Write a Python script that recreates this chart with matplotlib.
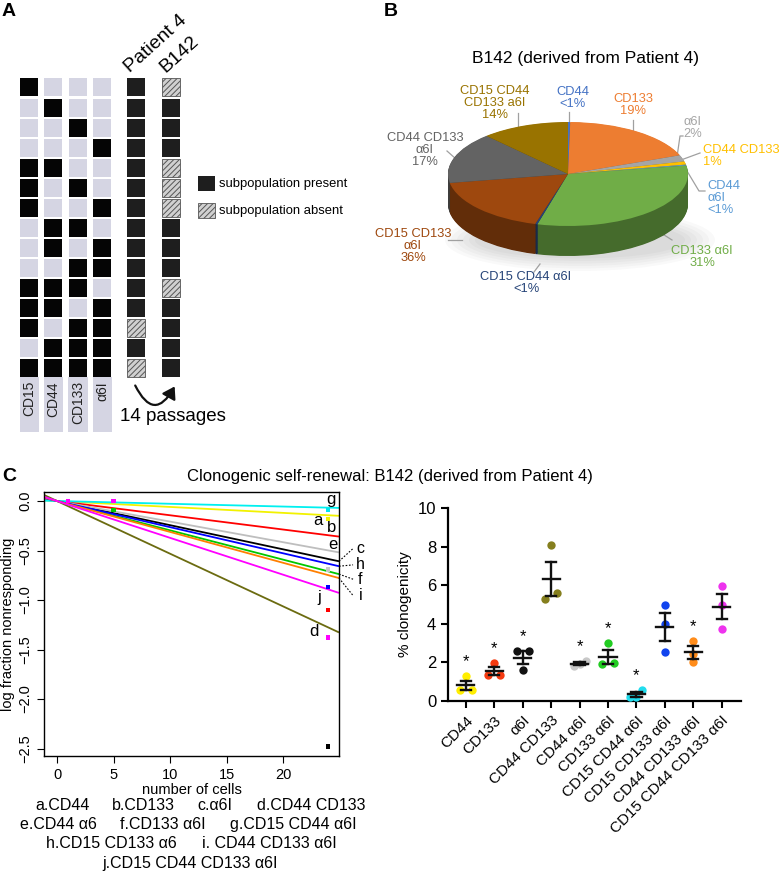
import numpy as np
import matplotlib
matplotlib.use("Agg")
import matplotlib.pyplot as plt
from matplotlib.patches import Rectangle, FancyArrowPatch, Ellipse
import matplotlib.colors as mcolors

plt.rcParams['font.family'] = ['Liberation Sans', 'DejaVu Sans']
plt.rcParams['hatch.linewidth'] = 0.7
plt.rcParams['axes.unicode_minus'] = True

W, H = 782, 871

# ---------------- Panel A data ----------------
markers_A = ["CD15", "CD44", "CD133", "α6I"]
combo_matrix = [
    [1, 0, 0, 0], [0, 1, 0, 0], [0, 0, 1, 0], [0, 0, 0, 1],
    [1, 1, 0, 0], [1, 0, 1, 0], [1, 0, 0, 1], [0, 1, 1, 0],
    [0, 1, 0, 1], [0, 0, 1, 1], [1, 1, 1, 0], [1, 1, 0, 1],
    [1, 0, 1, 1], [0, 1, 1, 1], [1, 1, 1, 1]]
patient4_present = [1, 1, 1, 1, 1, 1, 1, 1, 1, 1, 1, 1, 0, 1, 0]
b142_present = [0, 1, 1, 1, 0, 0, 0, 1, 1, 1, 0, 1, 1, 1, 1]
sample_names = ["Patient 4", "B142"]

# ---------------- Panel B data ----------------
pie_names = ["CD44", "CD133", "α6I", "CD44 CD133", "CD44\nα6I", "CD133 α6I",
             "CD15 CD44 α6I", "CD15 CD133\nα6I", "CD44 CD133\nα6I",
             "CD15 CD44\nCD133 a6I"]
pie_pct_text = ["<1%", "19%", "2%", "1%", "<1%", "31%", "<1%", "36%", "17%", "14%"]
pie_sizes = [0.3, 19, 2, 1, 0.3, 32, 0.3, 18, 16, 12]
pie_colors = ["#4472C4", "#ED7D31", "#A5A5A5", "#FFC000", "#5B9BD5", "#70AD47",
              "#264478", "#9E480E", "#636363", "#997300"]

# ---------------- Panel C (left) data ----------------
ld_letters = list("abcdefghij")
ld_slopes = [-0.0060, -0.0144, -0.0244, -0.0532, -0.0208, -0.0296,
             -0.0028, -0.0264, -0.0312, -0.0372]
ld_colors = ["#F2F200", "#FF0000", "#000000", "#6B6B10", "#BEBEBE", "#00C800",
             "#00F0F0", "#0000FF", "#FF7F00", "#FF00FF"]
ld_pt_x = [24, 24, 24, 24, 24, 24, 24, 5, 5, 1]
ld_pt_y = [-0.09, -0.18, -0.69, -0.87, -1.10, -1.38, -2.48, 0.0, -0.09, 0.0]
ld_pt_colors = ["#00E5EE", "#F2F200", "#C8C8C8", "#0000FF", "#FF0000", "#FF00FF",
                "#000000", "#FF00FF", "#00C800", "#FF00FF"]
legend_rows = [
    ["a.CD44", "b.CD133", "c.α6I", "d.CD44 CD133"],
    ["e.CD44 α6", "f.CD133 α6I", "g.CD15 CD44 α6I"],
    ["h.CD15 CD133 α6", "i. CD44 CD133 α6I"],
    ["j.CD15 CD44 CD133 α6I"]]

# ---------------- Panel C (right) data ----------------
clono_groups = ["CD44", "CD133", "α6I", "CD44 CD133", "CD44 α6I", "CD133 α6I",
                "CD15 CD44 α6I", "CD15 CD133 α6I", "CD44 CD133 α6I",
                "CD15 CD44 CD133 α6I"]
clono_values = [[1.28, 0.58, 0.58], [1.97, 1.35, 1.35], [2.57, 2.57, 1.60],
                [8.10, 5.30, 5.60], [2.05, 1.92, 1.80], [3.00, 1.93, 1.95],
                [0.58, 0.22, 0.22], [4.97, 3.98, 2.55], [3.10, 2.45, 2.00],
                [5.97, 4.97, 3.72]]
clono_colors = ["#FFEE00", "#F53A10", "#111111", "#857F1E", "#C8C8C8", "#22CC22",
                "#22DDEE", "#1144EE", "#FF8C1A", "#EE33EE"]
clono_signif = [1, 1, 1, 0, 1, 1, 1, 0, 1, 0]

# ======================================================================
fig = plt.figure(figsize=(W / 100, H / 100), dpi=100)


def px_axes(x0, y0, x1, y1, **kw):
    return fig.add_axes([x0 / W, 1 - y1 / H, (x1 - x0) / W, (y1 - y0) / H], **kw)


ax0 = fig.add_axes([0, 0, 1, 1])
ax0.set_xlim(0, W)
ax0.set_ylim(H, 0)
ax0.axis('off')

# panel letters
ax0.text(2, 12, "A", fontsize=14, fontweight='bold', va='center', ha='left')
ax0.text(384, 11, "B", fontsize=14, fontweight='bold', va='center', ha='left')
ax0.text(2, 476, "C", fontsize=14, fontweight='bold', va='center', ha='left')

# ---------------- Panel A ----------------
light = "#D5D5E3"
sq = 18
for i, row in enumerate(combo_matrix):
    y0 = 78.5 + 20.05 * i
    for j, v in enumerate(row):
        x0 = 20 + 24.4 * j
        ax0.add_patch(Rectangle((x0, y0), sq, sq, facecolor="#050505" if v else light,
                                edgecolor='none'))
    for k, pres in enumerate([patient4_present[i], b142_present[i]]):
        x0 = 126.7 + 35.6 * k
        if pres:
            ax0.add_patch(Rectangle((x0, y0), sq, sq, facecolor="#1E1E1E",
                                    edgecolor='none'))
        else:
            ax0.add_patch(Rectangle((x0, y0), sq, sq, facecolor="#D0D0D0",
                                    edgecolor="#555555", hatch='//////', lw=0.6))

for j, name in enumerate(markers_A):
    x0 = 19.5 + 24.4 * j
    ax0.add_patch(Rectangle((x0, 377), 19.5, 55, facecolor=light, edgecolor='none'))
    ax0.text(x0 + 9.75, 381, name, rotation=90, ha='center', va='top', fontsize=10,
             color="#222222")

for k, name in enumerate(sample_names):
    ax0.text(130 + 35.6 * k, 73, name, rotation=42, rotation_mode='anchor',
             ha='left', va='baseline', fontsize=14)

ax0.add_patch(Rectangle((198, 176), 17, 15, facecolor="#1E1E1E", edgecolor='none'))
ax0.add_patch(Rectangle((198, 203), 17, 15, facecolor="#D0D0D0", edgecolor="#555555",
                        hatch='//////', lw=0.6))
ax0.text(219, 183.5, "subpopulation present", fontsize=9.4, va='center', ha='left')
ax0.text(219, 210.5, "subpopulation absent", fontsize=9.4, va='center', ha='left')

arr = FancyArrowPatch((134, 383), (176, 384), connectionstyle='arc3,rad=1.0',
                      arrowstyle='-|>,head_length=7,head_width=4.5', lw=1.6,
                      color='#111111', mutation_scale=1)
ax0.add_patch(arr)
ax0.text(120, 416, "14 passages", fontsize=13.5, ha='left', va='center')

# ---------------- Panel B ----------------
ax0.text(585, 58, "B142 (derived from Patient 4)", fontsize=12.5, ha='center',
         va='center')

# soft shadow
for k in range(6):
    ax0.add_patch(Ellipse((580, 240), 270 - 12 * k, 62 - 5 * k, facecolor='#000000',
                          alpha=0.025, edgecolor='none'))

cx, cy, rx, ry = 568, 174, 120, 52
axp = px_axes(430, 95, 710, 290)
axp.patch.set_visible(False)
depth = 30 / ry
side_colors = [tuple(np.array(mcolors.to_rgb(c)) * 0.62) for c in pie_colors]
for d in np.linspace(depth, 0.01, 45):
    axp.pie(pie_sizes, colors=side_colors, startangle=90, counterclock=False,
            center=(0, -d), radius=1, wedgeprops=dict(linewidth=0))
axp.pie(pie_sizes, colors=pie_colors, startangle=90, counterclock=False,
        center=(0, 0), radius=1, wedgeprops=dict(linewidth=0))
axp.set_aspect('auto')
axp.set_xlim((430 - cx) / rx, (710 - cx) / rx)
axp.set_ylim((cy - 290) / ry, (cy - 95) / ry)
axp.axis('off')

# pie labels: (x, y, ha) and leader segments in pixel coords
pie_label_pos = [(573, 98, 'center'), (633, 105, 'center'), (683, 128, 'left'),
                 (703, 156, 'left'), (707, 198, 'left'), (702, 257, 'center'),
                 (526, 283, 'center'), (413, 246, 'center'), (425, 150, 'center'),
                 (495, 103, 'center')]
leaders = [[(569, 112), (569, 124)], [(633, 120), (633, 132)],
           [(683, 136), (680, 136), (677, 157)], [(700, 153), (681, 160)],
           [(705, 191), (699, 191), (681, 161)], [(672, 240), (661, 233)],
           [(534, 272), (540, 264)], [(448, 240), (462, 240)],
           [(447, 151), (456, 159)], [(518, 113), (518, 128)]]
for (x, y, ha), name, pct, col, seg in zip(pie_label_pos, pie_names, pie_pct_text,
                                          pie_colors, leaders):
    ax0.text(x, y, name + "\n" + pct, color=col, fontsize=9.3, ha=ha, va='center',
             multialignment='center' if ha == 'center' else 'left', linespacing=0.95)
    xs, ys = zip(*seg)
    ax0.plot(xs, ys, color="#A0A0A0", lw=0.9)

# ---------------- Panel C title ----------------
ax0.text(390, 476, "Clonogenic self-renewal: B142 (derived from Patient 4)",
         fontsize=12, ha='center', va='center')

# ---------------- Panel C left ----------------
ax1 = px_axes(44, 492, 339, 756)
x_lo, x_hi = (44 - 57) / 11.3, (339 - 57) / 11.3
y_lo, y_hi = (501 - 756) / 99, (501 - 492) / 99
xl = np.array([x_lo, x_hi])
for s, c in zip(ld_slopes, ld_colors):
    ax1.plot(xl, s * xl, color=c, lw=1.3, solid_capstyle='butt')
ax1.scatter(ld_pt_x, ld_pt_y, marker='s', s=10, c=ld_pt_colors, linewidths=0,
            zorder=5)
ax1.set_xlim(x_lo, x_hi)
ax1.set_ylim(y_lo, y_hi)
ax1.set_xticks([0, 5, 10, 15, 20])
yt = [-2.5, -2.0, -1.5, -1.0, -0.5, 0.0]
ax1.set_yticks(yt)
ax1.set_yticklabels([("\u2212%.1f" % -v) if v < 0 else "%.1f" % v for v in yt],
                    rotation=90, va='center')
ax1.tick_params(direction='out', length=5, width=0.8, labelsize=10.5)
for sp in ax1.spines.values():
    sp.set_linewidth(1.0)
ax1.set_xlabel("number of cells", fontsize=10.5, labelpad=1)
ax1.set_ylabel("log fraction nonresponding", fontsize=10.5, labelpad=2)

inside_lbl = {'g': (24.25, 0.02), 'a': (23.1, -0.20), 'b': (24.3, -0.27),
              'e': (24.4, -0.44), 'j': (23.2, -0.97), 'd': (22.7, -1.32)}
for L, (x, y) in inside_lbl.items():
    ax1.text(x, y, L, fontsize=12, ha='center', va='center')
outside_lbl = {'c': -0.48, 'h': -0.645, 'f': -0.79, 'i': -0.955}
for L, y in outside_lbl.items():
    s = ld_slopes[ld_letters.index(L)]
    ax1.plot([x_hi, 26.2], [s * x_hi, y], ls=(0, (1.5, 1.5)), color='k', lw=0.8,
             clip_on=False)
    ax1.text(26.85, y, L, fontsize=11.5, ha='center', va='center', clip_on=False)

# legend text under left plot
row_y = [805, 824, 843, 863]
row_x = [[35, 112, 197, 257], [20, 120, 230], [46, 202], [102]]
for r, items in enumerate(legend_rows):
    for it, x in zip(items, row_x[r]):
        ax0.text(x, row_y[r], it, fontsize=11.5, ha='left', va='center')

# ---------------- Panel C right ----------------
ax2 = px_axes(448, 508, 741, 701)
for i, (vals, col) in enumerate(zip(clono_values, clono_colors)):
    vals = np.array(vals)
    offs = np.zeros(len(vals))
    order = np.argsort(vals)
    used = np.zeros(len(vals), bool)
    clusters = []
    for idx in order:
        if used[idx]:
            continue
        cl = [j for j in order if not used[j] and abs(vals[j] - vals[idx]) < 0.45]
        for j in cl:
            used[j] = True
        clusters.append(cl)
    for cl in clusters:
        if len(cl) > 1:
            offs[cl] = np.linspace(-0.21, 0.21, len(cl))
    ax2.scatter(i + offs, vals, s=36, color=col, linewidths=0, zorder=3,
                clip_on=False)
    m = vals.mean()
    sem = vals.std(ddof=1) / np.sqrt(len(vals))
    ax2.plot([i - 0.3, i + 0.3], [m, m], color='#111111', lw=1.7, zorder=4)
    ax2.plot([i, i], [m - sem, m + sem], color='#111111', lw=1.7, zorder=4)
    for e in (m - sem, m + sem):
        ax2.plot([i - 0.18, i + 0.18], [e, e], color='#111111', lw=1.7, zorder=4)
    if clono_signif[i]:
        ax2.text(i, vals.max() + 0.75, "*", fontsize=12, ha='center', va='center')

ax2.set_xlim(-0.63, 9.68)
ax2.set_ylim(0, 10)
ax2.set_yticks([0, 2, 4, 6, 8, 10])
ax2.set_xticks(range(len(clono_groups)))
ax2.set_xticklabels(clono_groups, rotation=45, ha='right', rotation_mode='anchor',
                    fontsize=11)
ax2.tick_params(axis='y', labelsize=12, direction='out', length=5, width=1.5)
ax2.tick_params(axis='x', direction='out', length=5, width=1.5, pad=4)
for sp in ['top', 'right']:
    ax2.spines[sp].set_visible(False)
for sp in ['left', 'bottom']:
    ax2.spines[sp].set_linewidth(1.6)
ax2.set_ylabel("% clonogenicity", fontsize=11, labelpad=4)

fig.savefig("out.png", dpi=100)
